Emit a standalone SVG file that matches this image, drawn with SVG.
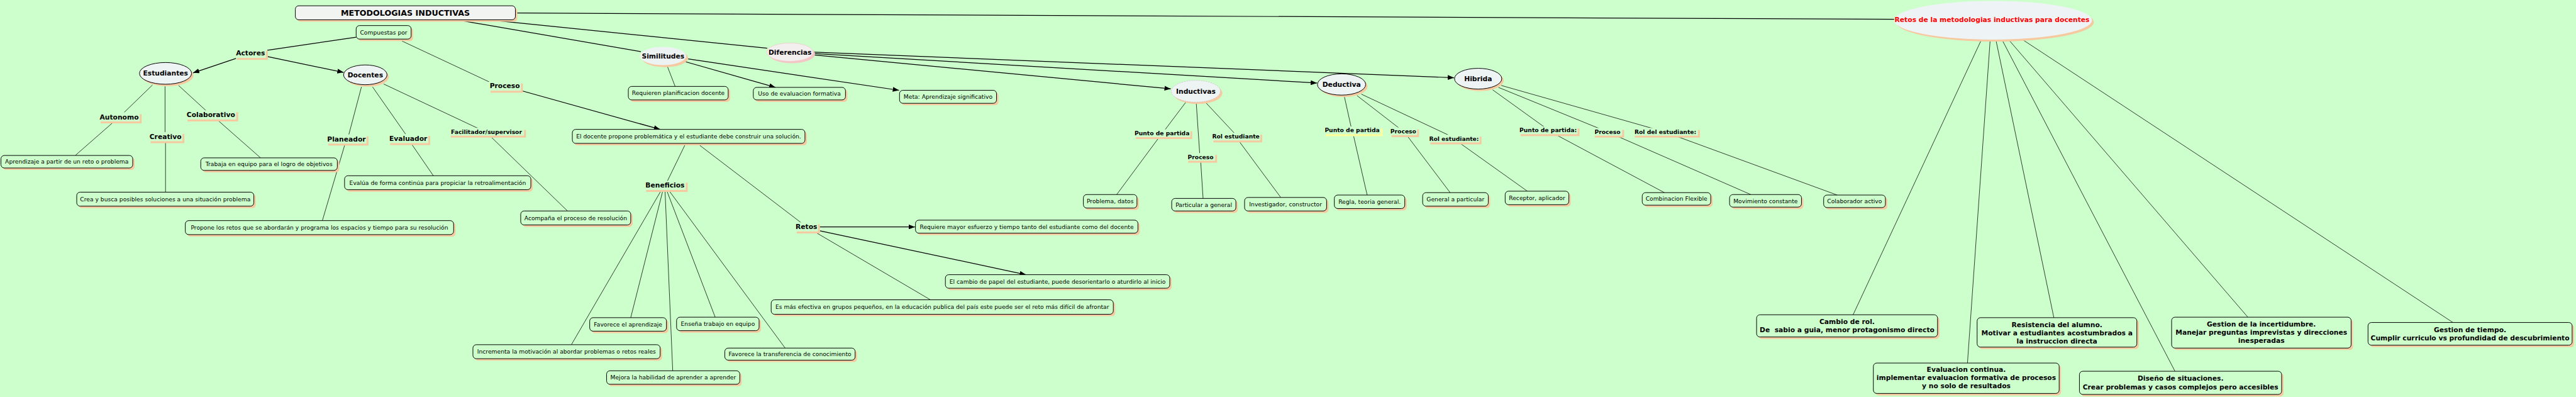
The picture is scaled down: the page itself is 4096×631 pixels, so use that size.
<svg xmlns="http://www.w3.org/2000/svg" width="4096" height="631" viewBox="0 0 4096 631">
<defs>
<style>
.bx{fill:#ccffcc;stroke:#000;stroke-width:1.3}
.sh{fill:#f6c9a0}
.lbg{fill:#ccffcc}
.el{fill:#eef3f3;stroke:#000;stroke-width:1.3}
.t{font-family:"DejaVu Sans","Liberation Sans",sans-serif;font-size:12px;fill:#000;text-anchor:middle}
.b{font-family:"DejaVu Sans","Liberation Sans",sans-serif;font-size:14px;font-weight:bold;fill:#000;text-anchor:middle}
.s{font-family:"DejaVu Sans","Liberation Sans",sans-serif;font-size:12px;font-weight:bold;fill:#000;text-anchor:middle}
.ln{stroke:#000;stroke-width:1;fill:none}
.tk{stroke:#000;stroke-width:1.6;fill:none}
.ar{marker-end:url(#ah)}
</style>
<marker id="ah" markerUnits="userSpaceOnUse" markerWidth="13" markerHeight="10" refX="13" refY="5" orient="auto"><path d="M0,0 L13,5 L0,10 z" fill="#000"/></marker>
</defs>
<rect width="4096" height="631" fill="#ccffcc"/>
<g transform="scale(0.76733)">
<g id="connectors">
<line class="tk" x1="738" y1="77" x2="554" y2="104"/>
<line class="tk ar" x1="489" y1="121" x2="400" y2="151"/>
<line class="tk ar" x1="554" y1="117" x2="712" y2="150"/>
<line class="ln" x1="833" y1="85" x2="1021" y2="173"/>
<line class="tk ar" x1="1081" y1="188" x2="1368" y2="268"/>
<line class="ln" x1="316" y1="176" x2="254" y2="236"/>
<line class="ln" x1="236" y1="252" x2="156" y2="322"/>
<line class="ln" x1="342" y1="179" x2="342" y2="276"/>
<line class="ln" x1="343" y1="292" x2="343" y2="398"/>
<line class="ln" x1="370" y1="177" x2="429" y2="231"/>
<line class="ln" x1="449" y1="247" x2="540" y2="327"/>
<line class="ln" x1="749" y1="180" x2="722" y2="282"/>
<line class="ln" x1="715" y1="298" x2="668" y2="457"/>
<line class="ln" x1="772" y1="180" x2="842" y2="280"/>
<line class="ln" x1="852" y1="297" x2="898" y2="364"/>
<line class="ln" x1="795" y1="174" x2="993" y2="267"/>
<line class="ln" x1="1019" y1="285" x2="1176" y2="437"/>
<line class="tk" x1="1068" y1="27" x2="3925" y2="40"/>
<line class="tk" x1="946" y1="41" x2="1328" y2="107"/>
<line class="tk" x1="1010" y1="41" x2="1590" y2="100"/>
<line class="ln" x1="1382" y1="135" x2="1399" y2="179"/>
<line class="tk ar" x1="1421" y1="128" x2="1607" y2="181"/>
<line class="tk ar" x1="1426" y1="122" x2="1863" y2="187"/>
<line class="tk ar" x1="1687" y1="114" x2="2426" y2="184"/>
<line class="tk ar" x1="1687" y1="111" x2="2729" y2="172"/>
<line class="tk ar" x1="1687" y1="108" x2="3013" y2="161"/>
<line class="ln" x1="1419" y1="301" x2="1382" y2="377"/>
<line class="ln" x1="1450" y1="301" x2="1661" y2="462"/>
<line class="ln" x1="1371" y1="393" x2="1184" y2="714"/>
<line class="ln" x1="1374" y1="393" x2="1307" y2="658"/>
<line class="ln" x1="1378" y1="393" x2="1394" y2="768"/>
<line class="ln" x1="1381" y1="393" x2="1482" y2="657"/>
<line class="ln" x1="1385" y1="393" x2="1627" y2="721"/>
<line class="tk ar" x1="1698" y1="470" x2="1896" y2="470"/>
<line class="tk ar" x1="1699" y1="478" x2="2126" y2="569"/>
<line class="ln" x1="1688" y1="480" x2="1928" y2="621"/>
<line class="ln" x1="2457" y1="212" x2="2414" y2="269"/>
<line class="ln" x1="2400" y1="287" x2="2314" y2="403"/>
<line class="ln" x1="2479" y1="215" x2="2486" y2="318"/>
<line class="ln" x1="2488" y1="333" x2="2493" y2="411"/>
<line class="ln" x1="2499" y1="213" x2="2558" y2="276"/>
<line class="ln" x1="2568" y1="293" x2="2654" y2="409"/>
<line class="ln" x1="2786" y1="201" x2="2800" y2="264"/>
<line class="ln" x1="2805" y1="282" x2="2833" y2="404"/>
<line class="ln" x1="2812" y1="198" x2="2900" y2="266"/>
<line class="ln" x1="2915" y1="280" x2="3005" y2="399"/>
<line class="ln" x1="2821" y1="195" x2="3002" y2="280"/>
<line class="ln" x1="3026" y1="297" x2="3165" y2="396"/>
<line class="ln" x1="3093" y1="186" x2="3200" y2="263"/>
<line class="ln" x1="3228" y1="281" x2="3449" y2="399"/>
<line class="ln" x1="3105" y1="181" x2="3316" y2="267"/>
<line class="ln" x1="3351" y1="282" x2="3628" y2="403"/>
<line class="ln" x1="3111" y1="177" x2="3428" y2="267"/>
<line class="ln" x1="3476" y1="283" x2="3807" y2="404"/>
<line class="ln" x1="4106" y1="82" x2="3840" y2="652"/>
<line class="ln" x1="4124" y1="83" x2="4077" y2="752"/>
<line class="ln" x1="4136" y1="83" x2="4256" y2="658"/>
<line class="ln" x1="4149" y1="83" x2="4507" y2="769"/>
<line class="ln" x1="4163" y1="83" x2="4658" y2="657"/>
<line class="ln" x1="4191" y1="82" x2="5083" y2="668"/>
</g>

<g id="title"><rect class="sh" x="616" y="16" width="456" height="29" rx="7"/><rect x="612" y="12" width="456" height="29" rx="7" fill="#f2f4f2" stroke="#000" stroke-width="1.3"/><text class="b" x="840" y="32.5" style="font-size:16.5px">METODOLOGIAS INDUCTIVAS</text></g>

<g id="retos-metodologias"><ellipse cx="4134" cy="46" rx="205" ry="40" fill="#f6c9a0"/><ellipse cx="4130" cy="42" rx="205" ry="40" fill="#eef4f6"/><text class="b" x="4128" y="45" style="fill:#ff0000">Retos de la metodologias inductivas para docentes</text></g>

<g id="compuestas"><rect class="sh" x="742" y="57" width="114" height="28" rx="7"/><rect class="bx" x="738" y="53" width="114" height="28" rx="7"/><text class="t" x="795" y="71.3">Compuestas por</text></g>

<g id="lbl-actores"><rect class="sh" x="491" y="105" width="64" height="19"/><rect class="lbg" x="487" y="101" width="64" height="19"/><text class="b" x="519" y="115">Actores</text></g>
<g id="lbl-proceso"><rect class="sh" x="1016.5" y="173" width="67" height="19"/><rect class="lbg" x="1012.5" y="169" width="67" height="19"/><text class="b" x="1046" y="183">Proceso</text></g>

<g id="estudiantes"><ellipse cx="347" cy="156" rx="54" ry="22.5" fill="#f6c9a0"/><ellipse class="el" cx="343" cy="152" rx="54" ry="22.5"/><text class="b" x="343" y="157">Estudiantes</text></g>
<g id="docentes"><ellipse cx="761" cy="159" rx="45" ry="20.5" fill="#f6c9a0"/><ellipse class="el" cx="757" cy="155" rx="45" ry="20.5"/><text class="b" x="757" y="160">Docentes</text></g>

<g id="lbl-autonomo"><rect class="sh" x="208.5" y="236.5" width="85" height="19"/><rect class="lbg" x="204.5" y="232.5" width="85" height="19"/><text class="b" x="247" y="247">Autonomo</text></g>
<g id="lbl-colaborativo"><rect class="sh" x="388.5" y="232.5" width="105" height="19"/><rect class="lbg" x="384.5" y="228.5" width="105" height="19"/><text class="b" x="437" y="243">Colaborativo</text></g>
<g id="lbl-creativo"><rect class="sh" x="312" y="277.5" width="70" height="19"/><rect class="lbg" x="308" y="273.5" width="70" height="19"/><text class="b" x="343" y="288">Creativo</text></g>
<g id="lbl-planeador"><rect class="sh" x="680.5" y="282.5" width="83" height="19"/><rect class="lbg" x="676.5" y="278.5" width="83" height="19"/><text class="b" x="718" y="293">Planeador</text></g>
<g id="lbl-evaluador"><rect class="sh" x="808.5" y="281.5" width="83" height="19"/><rect class="lbg" x="804.5" y="277.5" width="83" height="19"/><text class="b" x="846" y="292">Evaluador</text></g>
<g id="lbl-facilitador"><rect class="sh" x="934" y="269" width="156" height="16"/><rect class="lbg" x="930" y="265" width="156" height="16"/><text class="s" x="1008" y="277.3">Facilitador/supervisor</text></g>

<g id="aprendizaje"><rect class="sh" x="6" y="326" width="273" height="26" rx="7"/><rect class="bx" x="2" y="322" width="273" height="26" rx="7"/><text class="t" x="138.5" y="339.3">Aprendizaje a partir de un reto o problema</text></g>
<g id="trabaja"><rect class="sh" x="420" y="331" width="283" height="26" rx="7"/><rect class="bx" x="416" y="327" width="283" height="26" rx="7"/><text class="t" x="557.5" y="344.3">Trabaja en equipo para el logro de objetivos</text></g>
<g id="crea"><rect class="sh" x="163" y="402" width="367" height="29" rx="7"/><rect class="bx" x="159" y="398" width="367" height="29" rx="7"/><text class="t" x="342.5" y="416.8">Crea y busca posibles soluciones a una situación problema</text></g>
<g id="evalua"><rect class="sh" x="718" y="368" width="386" height="29" rx="7"/><rect class="bx" x="714" y="364" width="386" height="29" rx="7"/><text class="t" x="907" y="382.8">Evalúa de forma continúa para propiciar la retroalimentación</text></g>
<g id="propone"><rect class="sh" x="388" y="461" width="556" height="29" rx="7"/><rect class="bx" x="384" y="457" width="556" height="29" rx="7"/><text class="t" x="662" y="475.8">Propone los retos que se abordarán y programa los espacios y tiempo para su resolución</text></g>
<g id="acompana"><rect class="sh" x="1083" y="441" width="228" height="29" rx="7"/><rect class="bx" x="1079" y="437" width="228" height="29" rx="7"/><text class="t" x="1193" y="455.8">Acompaña el proceso de resolución</text></g>

<g id="similitudes"><ellipse cx="1378" cy="120" rx="48" ry="19" fill="#f6c9a0"/><ellipse cx="1374" cy="116" rx="48" ry="19" fill="#edf3f3"/><text class="b" x="1374" y="121">Similitudes</text></g>
<g id="diferencias"><ellipse cx="1641" cy="112" rx="48" ry="19" fill="#f5c6c6"/><ellipse cx="1637" cy="108" rx="48" ry="19" fill="#f3efef" stroke="#f0c8c8" stroke-width="1"/><text class="b" x="1637" y="113">Diferencias</text></g>

<g id="requieren"><rect class="sh" x="1306" y="183" width="207" height="28" rx="7"/><rect class="bx" x="1302" y="179" width="207" height="28" rx="7"/><text class="t" x="1405.5" y="197.3">Requieren planificacion docente</text></g>
<g id="uso"><rect class="sh" x="1565" y="185" width="191" height="26" rx="7"/><rect class="bx" x="1561" y="181" width="191" height="26" rx="7"/><text class="t" x="1656.5" y="198.3">Uso de evaluacion formativa</text></g>
<g id="meta"><rect class="sh" x="1868" y="191" width="201" height="27" rx="7"/><rect class="bx" x="1864" y="187" width="201" height="27" rx="7"/><text class="t" x="1964.5" y="204.8">Meta: Aprendizaje significativo</text></g>

<g id="eldocente"><rect class="sh" x="1190" y="272" width="482" height="29" rx="7"/><rect class="bx" x="1186" y="268" width="482" height="29" rx="7"/><text class="t" x="1427" y="286.8">El docente propone problemática y el estudiante debe construir una solución.</text></g>

<g id="lbl-beneficios"><rect class="sh" x="1339" y="378.5" width="86" height="19"/><rect class="lbg" x="1335" y="374.5" width="86" height="19"/><text class="b" x="1378" y="389">Beneficios</text></g>
<g id="lbl-retos"><rect class="sh" x="1651" y="464.5" width="48" height="19"/><rect class="lbg" x="1647" y="460.5" width="48" height="19"/><text class="b" x="1671" y="475">Retos</text></g>

<g id="favap"><rect class="sh" x="1226" y="662" width="159" height="28" rx="7"/><rect class="bx" x="1222" y="658" width="159" height="28" rx="7"/><text class="t" x="1301.5" y="676.3">Favorece el aprendizaje</text></g>
<g id="ensena"><rect class="sh" x="1406" y="661" width="171" height="28" rx="7"/><rect class="bx" x="1402" y="657" width="171" height="28" rx="7"/><text class="t" x="1487.5" y="675.3">Enseña trabajo en equipo</text></g>
<g id="incrementa"><rect class="sh" x="984" y="718" width="388" height="29" rx="7"/><rect class="bx" x="980" y="714" width="388" height="29" rx="7"/><text class="t" x="1174" y="732.8">Incrementa la motivación al abordar problemas o retos reales</text></g>
<g id="favtr"><rect class="sh" x="1506" y="725" width="270" height="25" rx="7"/><rect class="bx" x="1502" y="721" width="270" height="25" rx="7"/><text class="t" x="1637" y="737.8">Favorece la transferencia de conocimiento</text></g>
<g id="mejora"><rect class="sh" x="1261" y="772" width="276" height="28" rx="7"/><rect class="bx" x="1257" y="768" width="276" height="28" rx="7"/><text class="t" x="1395" y="786.3">Mejora la habilidad de aprender a aprender</text></g>

<g id="requiere"><rect class="sh" x="1901" y="460" width="461" height="27" rx="7"/><rect class="bx" x="1897" y="456" width="461" height="27" rx="7"/><text class="t" x="2127.5" y="473.8">Requiere mayor esfuerzo y tiempo tanto del estudiante como del docente</text></g>
<g id="cambiopapel"><rect class="sh" x="1963" y="573" width="465" height="28" rx="7"/><rect class="bx" x="1959" y="569" width="465" height="28" rx="7"/><text class="t" x="2191.5" y="587.3">El cambio de papel del estudiante, puede desorientarlo o aturdirlo al inicio</text></g>
<g id="esmas"><rect class="sh" x="1602" y="625" width="709" height="30" rx="7"/><rect class="bx" x="1598" y="621" width="709" height="30" rx="7"/><text class="t" x="1952.5" y="640.3">Es más efectiva en grupos pequeños, en la educación publica del país este puede ser el reto más difícil de afrontar</text></g>

<g id="inductivas"><ellipse cx="2482" cy="193" rx="51" ry="22.5" fill="#f6c9a0"/><ellipse cx="2478" cy="189" rx="51" ry="22.5" fill="#eef3f3" stroke="#c4c4c4" stroke-width="1" stroke-dasharray="3,2"/><text class="b" x="2478" y="194">Inductivas</text></g>
<g id="deductiva"><ellipse cx="2784" cy="179" rx="50" ry="22" fill="#f6c9a0"/><ellipse class="el" cx="2780" cy="175" rx="50" ry="22"/><text class="b" x="2780" y="180">Deductiva</text></g>
<g id="hibrida"><ellipse cx="3067" cy="167" rx="49" ry="21.5" fill="#f6c9a0"/><ellipse class="el" cx="3063" cy="163" rx="49" ry="21.5"/><text class="b" x="3063" y="168">Hibrida</text></g>

<g id="lbl-i-pdp"><rect class="sh" x="2353.5" y="272" width="117" height="16"/><rect class="lbg" x="2349.5" y="268" width="117" height="16"/><text class="s" x="2408" y="280.3">Punto de partida</text></g>
<g id="lbl-i-proceso"><rect class="sh" x="2462" y="321" width="60" height="16"/><rect class="lbg" x="2458" y="317" width="60" height="16"/><text class="s" x="2488" y="329.3">Proceso</text></g>
<g id="lbl-i-rol"><rect class="sh" x="2514.5" y="279" width="101" height="16"/><rect class="lbg" x="2510.5" y="275" width="101" height="16"/><text class="s" x="2561" y="287.3">Rol estudiante</text></g>
<g id="lbl-d-pdp"><rect x="2747" y="266" width="118" height="16" fill="#ffff99"/><rect class="lbg" x="2743" y="262" width="118" height="16"/><text class="s" x="2802" y="274.3">Punto de partida</text></g>
<g id="lbl-d-proceso"><rect class="sh" x="2883.5" y="268" width="57" height="16"/><rect class="lbg" x="2879.5" y="264" width="57" height="16"/><text class="s" x="2908" y="276.3">Proceso</text></g>
<g id="lbl-d-rol"><rect class="sh" x="2964" y="283" width="106" height="16"/><rect class="lbg" x="2960" y="279" width="106" height="16"/><text class="s" x="3013" y="291.3">Rol estudiante:</text></g>
<g id="lbl-h-pdp"><rect class="sh" x="3151" y="266" width="122" height="16"/><rect class="lbg" x="3147" y="262" width="122" height="16"/><text class="s" x="3208" y="274.3">Punto de partida:</text></g>
<g id="lbl-h-proceso"><rect class="sh" x="3304.5" y="269" width="61" height="16"/><rect class="lbg" x="3300.5" y="265" width="61" height="16"/><text class="s" x="3331" y="277.3">Proceso</text></g>
<g id="lbl-h-rol"><rect class="sh" x="3387.5" y="269" width="135" height="16"/><rect class="lbg" x="3383.5" y="265" width="135" height="16"/><text class="s" x="3451" y="277.3">Rol del estudiante:</text></g>

<g id="problema"><rect class="sh" x="2249" y="407" width="111" height="28" rx="7"/><rect class="bx" x="2245" y="403" width="111" height="28" rx="7"/><text class="t" x="2300.5" y="421.3">Problema, datos</text></g>
<g id="particular"><rect class="sh" x="2432" y="415" width="133" height="26" rx="7"/><rect class="bx" x="2428" y="411" width="133" height="26" rx="7"/><text class="t" x="2494.5" y="428.3">Particular a general</text></g>
<g id="investigador"><rect class="sh" x="2583" y="413" width="170" height="28" rx="7"/><rect class="bx" x="2579" y="409" width="170" height="28" rx="7"/><text class="t" x="2664" y="427.3">Investigador, constructor</text></g>
<g id="regla"><rect class="sh" x="2769" y="408" width="146" height="28" rx="7"/><rect class="bx" x="2765" y="404" width="146" height="28" rx="7"/><text class="t" x="2838" y="422.3">Regla, teoria general.</text></g>
<g id="general"><rect class="sh" x="2952" y="403" width="136" height="28" rx="7"/><rect class="bx" x="2948" y="399" width="136" height="28" rx="7"/><text class="t" x="3016" y="417.3">General a particular</text></g>
<g id="receptor"><rect class="sh" x="3123" y="400" width="132" height="28" rx="7"/><rect class="bx" x="3119" y="396" width="132" height="28" rx="7"/><text class="t" x="3185" y="414.3">Receptor, aplicador</text></g>
<g id="combinacion"><rect class="sh" x="3407" y="403" width="142" height="26" rx="7"/><rect class="bx" x="3403" y="399" width="142" height="26" rx="7"/><text class="t" x="3474" y="416.3">Combinacion Flexible</text></g>
<g id="movimiento"><rect class="sh" x="3588" y="407" width="149" height="26" rx="7"/><rect class="bx" x="3584" y="403" width="149" height="26" rx="7"/><text class="t" x="3658.5" y="420.3">Movimiento constante</text></g>
<g id="colaborador"><rect class="sh" x="3783" y="408" width="128" height="26" rx="7"/><rect class="bx" x="3779" y="404" width="128" height="26" rx="7"/><text class="t" x="3843" y="421.3">Colaborador activo</text></g>

<g id="cambio-rol"><rect class="sh" x="3644" y="656" width="375" height="46" rx="7"/><rect class="bx" x="3640" y="652" width="375" height="46" rx="7"/><text class="b" x="3827.5" y="671">Cambio de rol.</text><text class="b" x="3827.5" y="688" xml:space="preserve">De  sabio a guia, menor protagonismo directo</text></g>
<g id="evaluacion-continua"><rect class="sh" x="3886" y="756" width="385" height="63" rx="7"/><rect class="bx" x="3882" y="752" width="385" height="63" rx="7"/><text class="b" x="4074.5" y="770">Evaluacion continua.</text><text class="b" x="4074.5" y="787">implementar evaluacion formativa de procesos</text><text class="b" x="4074.5" y="804">y no solo de resultados</text></g>
<g id="resistencia"><rect class="sh" x="4101" y="662" width="331" height="61" rx="7"/><rect class="bx" x="4097" y="658" width="331" height="61" rx="7"/><text class="b" x="4262.5" y="678">Resistencia del alumno.</text><text class="b" x="4262.5" y="695">Motivar a estudiantes acostumbrados a</text><text class="b" x="4262.5" y="712">la instruccion directa</text></g>
<g id="gestion-incertidumbre"><rect class="sh" x="4504" y="661" width="372" height="64" rx="7"/><rect class="bx" x="4500" y="657" width="372" height="64" rx="7"/><text class="b" x="4686" y="676">Gestion de la incertidumbre.</text><text class="b" x="4686" y="693">Manejar preguntas imprevistas y direcciones</text><text class="b" x="4686" y="710">inesperadas</text></g>
<g id="gestion-tiempo"><rect class="sh" x="4911" y="672" width="423" height="47" rx="7"/><rect class="bx" x="4907" y="668" width="423" height="47" rx="7"/><text class="b" x="5118.5" y="688">Gestion de tiempo.</text><text class="b" x="5118.5" y="705">Cumplir curriculo vs profundidad de descubrimiento</text></g>
<g id="diseno"><rect class="sh" x="4313" y="773" width="419" height="48" rx="7"/><rect class="bx" x="4309" y="769" width="419" height="48" rx="7"/><text class="b" x="4518.5" y="789">Diseño de situaciones.</text><text class="b" x="4518.5" y="807">Crear problemas y casos complejos pero accesibles</text></g>
</g>
</svg>
